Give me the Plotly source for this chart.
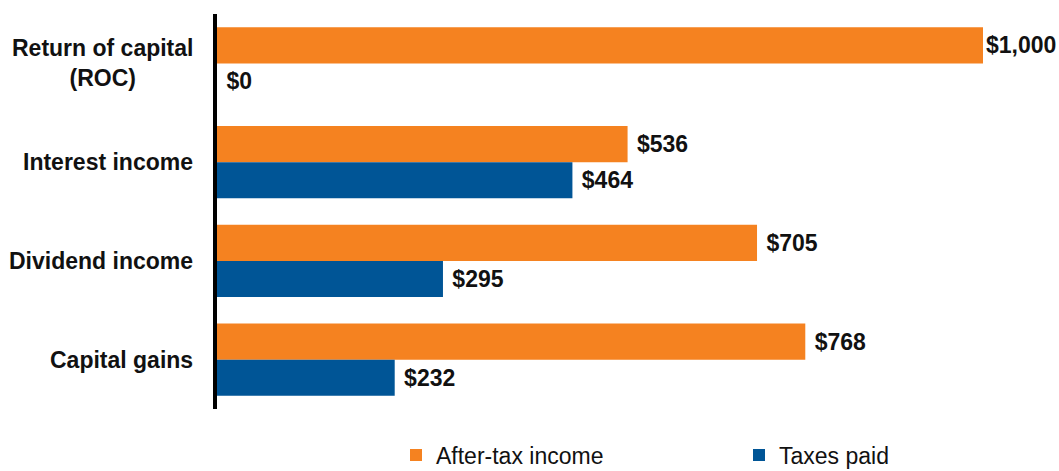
import plotly.graph_objects as go

categories = ["Return of capital<br>(ROC)", "Interest income", "Dividend income", "Capital gains"]
after_tax = [1000, 536, 705, 768]
taxes_paid = [0, 464, 295, 232]
series_names = ["After-tax income", "Taxes paid"]
colors = ["#F58220", "#005596"]
legend_ids = ["legend", "legend2"]
x_max = 1000

FONT = "Liberation Sans, Arial, sans-serif"

def fmt(v):
    pad = "" if v >= x_max else "\u00a0"
    return pad + "$" + f"{v:,}"

fig = go.Figure()
for name, vals, col, lg in zip(series_names, [after_tax, taxes_paid], colors, legend_ids):
    fig.add_trace(go.Bar(
        y=categories, x=vals, name=name, orientation="h", legend=lg,
        marker=dict(color=col, line=dict(width=0)),
        text=[fmt(v) for v in vals], textposition="outside",
        textfont=dict(family=FONT, size=23, color="#111111", weight="bold"),
        cliponaxis=False,
    ))

for c in categories:
    fig.add_annotation(
        x=0, xref="paper", y=c, yref="y", text=c, showarrow=False,
        xanchor="right", align="center", xshift=-22,
        font=dict(family=FONT, size=23, color="#111111", weight="bold"),
    )

legend_common = dict(
    orientation="h", xanchor="left", yanchor="middle",
    xref="container", yref="container", y=1 - 455 / 471,
    font=dict(family=FONT, size=23, color="#111111"),
    bgcolor="rgba(0,0,0,0)", borderwidth=0,
)

fig.update_layout(
    width=1059, height=471,
    margin=dict(l=217, r=76, t=14, b=62),
    barmode="group", bargap=0.27, bargroupgap=0,
    plot_bgcolor="white", paper_bgcolor="white",
    showlegend=True,
    legend=dict(x=396 / 1059, **legend_common),
    legend2=dict(x=739 / 1059, **legend_common),
    xaxis=dict(range=[0, x_max], visible=False, showgrid=False, zeroline=False),
    yaxis=dict(
        autorange="reversed", showticklabels=False, showgrid=False,
        showline=True, linecolor="black", linewidth=4, ticks="", zeroline=False,
    ),
)

fig.write_html("out.html")
